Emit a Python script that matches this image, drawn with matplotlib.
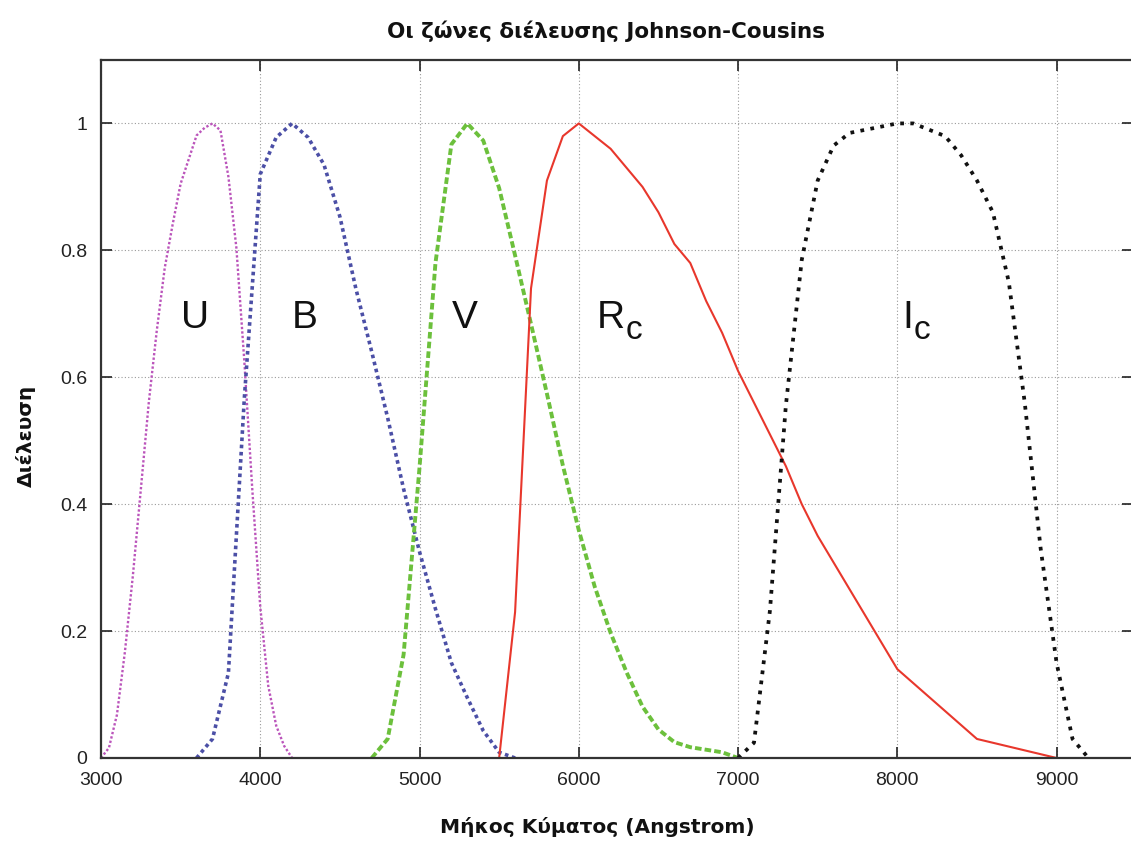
import matplotlib.pyplot as plt
from matplotlib.ticker import FuncFormatter

plt.rcParams['font.family'] = ['Liberation Sans', 'DejaVu Sans']

# Johnson-Cousins passbands (wavelength in Angstrom, relative transmission)
u_wl = [3000, 3050, 3100, 3150, 3200, 3250, 3300, 3350, 3400, 3450, 3500, 3550, 3600,
        3650, 3700, 3750, 3800, 3850, 3900, 3950, 4000, 4050, 4100, 4150, 4200]
u_tr = [0.000, 0.016, 0.068, 0.167, 0.287, 0.423, 0.560, 0.673, 0.772, 0.841, 0.905, 0.943, 0.981,
        0.993, 1.000, 0.989, 0.916, 0.804, 0.625, 0.423, 0.238, 0.114, 0.051, 0.019, 0.000]

b_wl = [3600, 3700, 3800, 3900, 4000, 4100, 4200, 4300, 4400, 4500, 4600,
        4700, 4800, 4900, 5000, 5100, 5200, 5300, 5400, 5500, 5600]
b_tr = [0.000, 0.030, 0.134, 0.567, 0.920, 0.978, 1.000, 0.978, 0.935, 0.853, 0.740,
        0.640, 0.536, 0.424, 0.325, 0.235, 0.150, 0.095, 0.043, 0.009, 0.000]

v_wl = [4700, 4800, 4900, 5000, 5100, 5200, 5300, 5400, 5500, 5600, 5700, 5800,
        5900, 6000, 6100, 6200, 6300, 6400, 6500, 6600, 6700, 6800, 6900, 7000]
v_tr = [0.000, 0.030, 0.163, 0.458, 0.780, 0.967, 1.000, 0.973, 0.898, 0.792, 0.684, 0.574,
        0.461, 0.359, 0.270, 0.197, 0.135, 0.081, 0.045, 0.025, 0.017, 0.013, 0.009, 0.000]

r_wl = [5500, 5600, 5700, 5800, 5900, 6000, 6100, 6200, 6300, 6400, 6500, 6600,
        6700, 6800, 6900, 7000, 7100, 7200, 7300, 7400, 7500, 8000, 8500, 9000]
r_tr = [0.00, 0.23, 0.74, 0.91, 0.98, 1.00, 0.98, 0.96, 0.93, 0.90, 0.86, 0.81,
        0.78, 0.72, 0.67, 0.61, 0.56, 0.51, 0.46, 0.40, 0.35, 0.14, 0.03, 0.00]

i_wl = [7000, 7100, 7200, 7300, 7400, 7500, 7600, 7700, 7800, 7900, 8000, 8100,
        8200, 8300, 8400, 8500, 8600, 8700, 8800, 8900, 9000, 9100, 9200]
i_tr = [0.000, 0.024, 0.232, 0.555, 0.785, 0.910, 0.965, 0.985, 0.990, 0.995, 1.000, 1.000,
        0.990, 0.980, 0.950, 0.910, 0.860, 0.750, 0.560, 0.330, 0.150, 0.030, 0.000]

# band letters and their subscripts
band_names = ['U', 'B', 'V', 'R', 'I']
band_x = [3500, 4200, 5200, 6110, 8030]
band_sub = ['', '', '', 'c', 'c']
sub_x = [0, 0, 0, 6292, 8102]
label_y = 0.678

fig = plt.figure(figsize=(11.31, 8.41), dpi=100)
ax = fig.add_axes([0.0893, 0.0987, 0.9125, 0.83])

ax.plot(u_wl, u_tr, color='#bb55bb', lw=1.7, ls=(0, (1, 0.9)))
ax.plot(b_wl, b_tr, color='#4b4fa6', lw=2.6, ls=(0, (1, 1.0)))
ax.plot(v_wl, v_tr, color='#6cc03c', lw=2.8, ls=(0, (1.7, 0.8)))
ax.plot(r_wl, r_tr, color='#e8372c', lw=1.5, ls='-')
ax.plot(i_wl, i_tr, color='#111111', lw=2.7, ls=(0, (1, 1.7)))

for name, x, sub, sx in zip(band_names, band_x, band_sub, sub_x):
    ax.text(x, label_y, name, fontsize=28, ha='left', va='baseline', color='#111111')
    if sub:
        ax.text(sx, label_y - 0.017, sub, fontsize=24, ha='left', va='baseline', color='#111111')

ax.set_xlim(3000, 9480)
ax.set_ylim(0, 1.1)
ax.set_xticks([3000, 4000, 5000, 6000, 7000, 8000, 9000])
ax.set_yticks([0, 0.2, 0.4, 0.6, 0.8, 1.0])
ax.yaxis.set_major_formatter(FuncFormatter(lambda v, p: '%g' % v))
ax.tick_params(direction='in', length=8, width=1.2, top=True, right=True,
               labelsize=14, pad=10, colors='#222222')
ax.grid(True, color='#9a9a9a', lw=0.8, ls=(0, (1, 2)))
for s in ax.spines.values():
    s.set_linewidth(1.6)
    s.set_color('#333333')

ax.set_title('Οι ζώνες διέλευσης Johnson-Cousins', fontsize=15.5, fontweight='bold',
             family='DejaVu Sans', pad=16, x=0.489, color='#111111')
ax.set_xlabel('Μήκος Κύματος (Angstrom)', fontsize=14.5, fontweight='bold',
              family='DejaVu Sans', color='#111111')
ax.set_ylabel('Διέλευση', fontsize=14.5, fontweight='bold', family='DejaVu Sans', color='#111111')
ax.xaxis.set_label_coords(0.481, -0.084)
ax.yaxis.set_label_coords(-0.063, 0.461)

fig.savefig('out.png', dpi=100)
